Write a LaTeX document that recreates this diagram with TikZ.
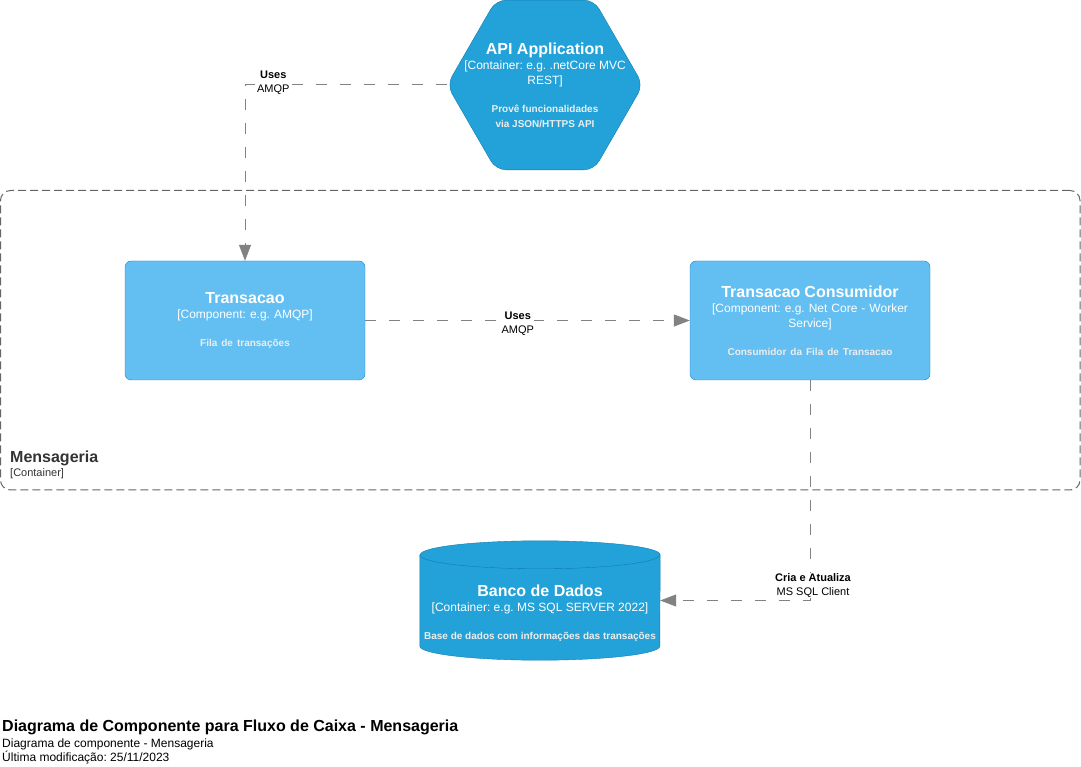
\documentclass[tikz,border=0pt]{standalone}
\usepackage{fontspec}
\setmainfont{Liberation Sans}
\usetikzlibrary{shapes.geometric,arrows.meta}

\definecolor{contfill}{HTML}{23A2D9}
\definecolor{contline}{HTML}{0E7DAD}
\definecolor{compfill}{HTML}{63BEF2}
\definecolor{compline}{HTML}{2086C9}
\definecolor{relgray}{HTML}{828282}
\definecolor{bndgray}{HTML}{666666}
\definecolor{bndtext}{HTML}{333333}
\definecolor{descgray}{HTML}{EDEDED}

\newcommand{\boxtitle}[1]{{\fontsize{16}{15}\selectfont\bfseries #1}}
\newcommand{\boxdesc}[1]{{\fontsize{10}{15}\selectfont\bfseries\color{descgray}#1}}

\begin{document}
\frenchspacing
\begin{tikzpicture}[x=1pt,y=1pt]
  \tikzset{
    hexnode/.style={
      regular polygon,
      regular polygon sides=6,
      draw=contline,
      fill=contfill,
      minimum size=196pt,
      inner sep=0pt,
      rounded corners=10pt
    },
    compnode/.style={
      rectangle,
      draw=compline,
      fill=compfill,
      rounded corners=6pt,
      minimum width=240pt,
      minimum height=119pt,
      text width=232pt,
      inner sep=0pt,
      align=center,
      text=white,
      font=\fontsize{12}{15}\selectfont
    },
    textnode/.style={
      inner sep=0pt,
      align=center,
      text=white,
      font=\fontsize{12}{15}\selectfont
    },
    boundary/.style={
      draw=bndgray,
      line width=1pt,
      dash pattern=on 8pt off 4pt,
      rounded corners=10pt
    },
    relline/.style={
      draw=relgray,
      line width=1pt,
      dash pattern=on 11pt off 13pt,
      -{Triangle[length=16pt,width=12pt]}
    },
    rellabel/.style={
      fill=white,
      inner sep=0.5pt,
      align=center,
      font=\fontsize{11}{14}\selectfont
    }
  }
  \useasboundingbox (0,0) rectangle (1081,766);

  \node[boundary, minimum width=1079.5pt, minimum height=299.5pt] (mens) at (540.25,425.75) {};
  \node[inner sep=0pt, anchor=north west, align=left, text=bndtext, font=\fontsize{11}{14}\selectfont] (menslabel) at (10,315)
    {{\fontsize{16}{14}\selectfont\bfseries Mensageria}\\{[}Container]};

  \node[hexnode] (api) at (545,681) {};
  \node[textnode, anchor=north] (apitext) at (545,722.8)
    {\boxtitle{API Application}\\{[}Container: e.g. .netCore MVC\\REST]\\[13pt]\boxdesc{Provê funcionalidades}\\\boxdesc{via JSON/HTTPS API}};

  \node[compnode] (trans) at (245,445.5)
    {\boxtitle{Transacao}\\{[}Component: e.g. AMQP]\\[13pt]\boxdesc{Fila de transações}};
  \node[compnode] (cons) at (810,445.5)
    {\boxtitle{Transacao Consumidor}\\{[}Component: e.g. Net Core - Worker\\Service]\\[13pt]\boxdesc{Consumidor da Fila de Transacao}};

  \node[minimum width=240pt, minimum height=119pt, inner sep=0pt] (db) at (540,165.5) {};
  \draw[draw=contline, fill=contfill] ([yshift=-14pt]db.north west) -- ([yshift=14pt]db.south west)
    arc[start angle=180, end angle=360, x radius=120pt, y radius=14pt] -- ([yshift=-14pt]db.north east)
    arc[start angle=0, end angle=180, x radius=120pt, y radius=14pt] -- cycle;
  \draw[draw=contline] ([yshift=-14pt]db.north west) arc[start angle=180, end angle=360, x radius=120pt, y radius=14pt];
  \node[textnode, anchor=north] (dbtext) at (540,180.8)
    {\boxtitle{Banco de Dados}\\{[}Container: e.g. MS SQL SERVER 2022]\\[13pt]\boxdesc{Base de dados com informações das transações}};

  \draw[relline] (api.west) -| (trans.north) node[rellabel, pos=0.43, yshift=2pt] {\textbf{Uses}\\AMQP};
  \draw[relline] (trans.east) -- (cons.west) node[rellabel, pos=0.47, yshift=-3.5pt] {\textbf{Uses}\\AMQP};
  \draw[relline] (cons.south) |- (db.east) node[rellabel, pos=0.465, xshift=3pt] {\textbf{Cria e Atualiza}\\MS SQL Client};

  \node[inner sep=0pt, anchor=north west, align=left, font=\fontsize{12}{14}\selectfont] (title) at (2,46)
    {{\fontsize{16}{14}\selectfont\bfseries Diagrama de Componente para Fluxo de Caixa - Mensageria}\\[1.5pt]Diagrama de componente - Mensageria\\Última modificação: 25/11/2023};
\end{tikzpicture}
\end{document}
